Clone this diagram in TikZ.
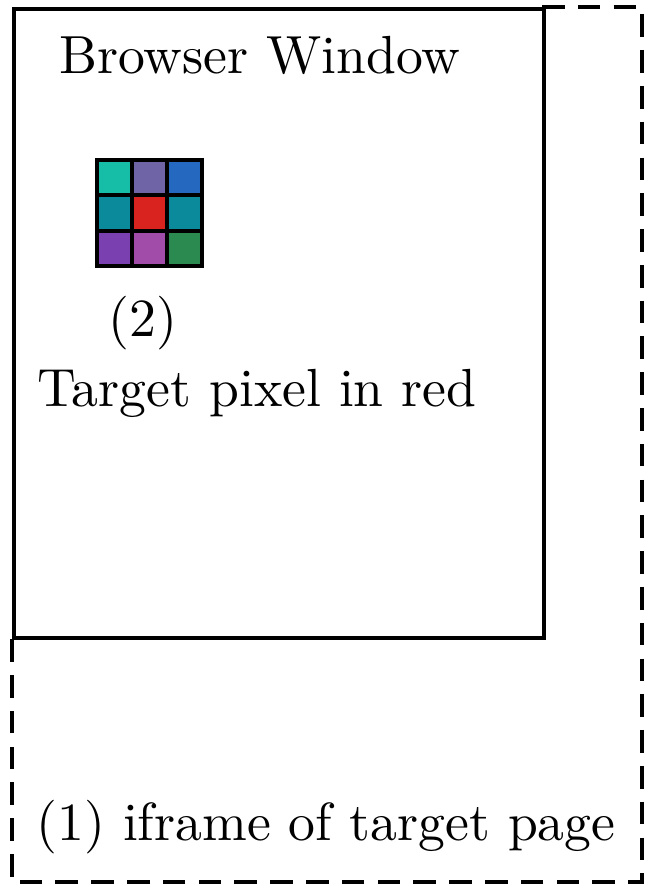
\documentclass[tikz,border=0pt]{standalone}
\begin{document}
\begin{tikzpicture}[x=0.19pt,y=-0.19pt,
  frame/.style={draw=black,line width=0.7pt},
  dframe/.style={draw=black,line width=0.75pt,dash pattern=on 4.3pt off 2.5pt},
  cell/.style={draw=black,line width=0.7pt,minimum size=6.65pt,inner sep=0pt,outer sep=0pt},
  lbl/.style={font=\fontsize{10.2}{12}\selectfont,inner sep=0pt}]
\useasboundingbox (0,0) rectangle (646,885);
\coordinate (tl) at (12,7);
\coordinate (tr) at (642,7);
\coordinate (br) at (642,882);
\coordinate (bl) at (12,882);
\coordinate (sbl) at (12,636);
\coordinate (str) at (542,7);
\draw[dframe] (str) -- (tr) -- (br) -- (bl) -- (sbl);
\node[frame,draw,minimum width=100.7pt,minimum height=119.5pt,inner sep=0pt,anchor=north west] (win) at (tl) {};
\node[lbl] (bw) at (260,55) {Browser Window};
\definecolor{c11}{RGB}{22,190,168}
\definecolor{c12}{RGB}{110,100,166}
\definecolor{c13}{RGB}{36,104,192}
\definecolor{c21}{RGB}{10,138,154}
\definecolor{c22}{RGB}{216,35,30}
\definecolor{c23}{RGB}{10,138,154}
\definecolor{c31}{RGB}{122,64,176}
\definecolor{c32}{RGB}{160,76,168}
\definecolor{c33}{RGB}{42,138,80}
\foreach \r in {1,2,3}{
  \foreach \c in {1,2,3}{
    \node[cell,fill=c\r\c] (p\r\c) at ({97+35*(\c-0.5)},{160+35.3*(\r-0.5)}) {};
  }
}
\node[lbl] (two) at (143,323) {(2)};
\node[lbl] (tp) at (257,393) {Target pixel in red};
\node[lbl] (ifr) at (326,827) {(1) iframe of target page};
\end{tikzpicture}
\end{document}
